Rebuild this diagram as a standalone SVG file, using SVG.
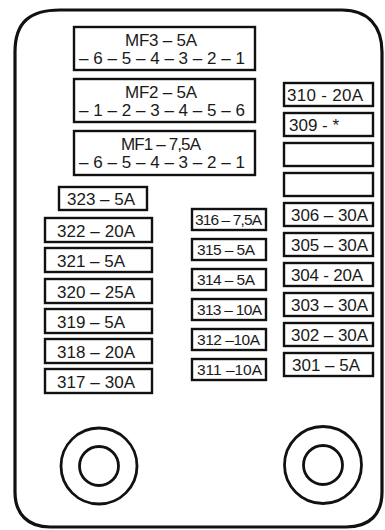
<svg xmlns="http://www.w3.org/2000/svg" width="385" height="530" viewBox="0 0 385 530">
<style>
.box{fill:#fff;stroke:#111;stroke-width:2.4}
.t{font-family:"Liberation Sans",Arial,sans-serif;fill:#1a1a1a;font-size:17px}
.m{font-family:"Liberation Sans",Arial,sans-serif;fill:#1a1a1a;font-size:15.5px}
.c{fill:none;stroke:#111;stroke-width:2.8}
</style>
<rect width="385" height="530" fill="#fff"/>
<g id="housing">
<path d="M15,52 C15,22 30,10 60,10 L342,10 C368,10 382,26 382,52 L382,492 C382,514 370,527 346,527 L50,527 C28,527 15,514 15,492 Z" fill="none" stroke="#111" stroke-width="3.2"/>
</g>
<g id="mf3"><rect class="box" x="74" y="27" width="181" height="43"/>
<text class="t" x="161" y="46" text-anchor="middle" textLength="72">MF3 – 5A</text>
<text class="t" x="162" y="64" text-anchor="middle" textLength="166">– 6 – 5 – 4 – 3 – 2 – 1</text></g>
<g id="mf2"><rect class="box" x="74" y="79" width="181" height="43"/>
<text class="t" x="161" y="98" text-anchor="middle" textLength="72">MF2 – 5A</text>
<text class="t" x="162" y="116" text-anchor="middle" textLength="166">– 1 – 2 – 3 – 4 – 5 – 6</text></g>
<g id="mf1"><rect class="box" x="74" y="131" width="181" height="44"/>
<text class="t" x="161" y="150" text-anchor="middle" textLength="80">MF1 – 7,5A</text>
<text class="t" x="162" y="168" text-anchor="middle" textLength="166">– 6 – 5 – 4 – 3 – 2 – 1</text></g>

<g id="f310"><rect class="box" x="284" y="83" width="89" height="23"/><text class="t" x="287" y="101" textLength="76">310 - 20A</text></g>
<g id="f309"><rect class="box" x="284" y="113" width="89" height="23"/><text class="t" x="289" y="131">309 - *</text></g>
<g id="f308"><rect class="box" x="284" y="143" width="89" height="23"/></g>
<g id="f307"><rect class="box" x="284" y="173" width="89" height="23"/></g>
<g id="f306"><rect class="box" x="284" y="203" width="89" height="23"/><text class="t" x="291" y="221" textLength="77">306 – 30A</text></g>
<g id="f305"><rect class="box" x="284" y="233" width="89" height="23"/><text class="t" x="291" y="251" textLength="77">305 – 30A</text></g>
<g id="f304"><rect class="box" x="284" y="263" width="89" height="23"/><text class="t" x="291" y="281" textLength="72">304 - 20A</text></g>
<g id="f303"><rect class="box" x="284" y="293" width="89" height="23"/><text class="t" x="291" y="311" textLength="77">303 – 30A</text></g>
<g id="f302"><rect class="box" x="284" y="323" width="89" height="23"/><text class="t" x="291" y="341" textLength="77">302 – 30A</text></g>
<g id="f301"><rect class="box" x="284" y="353" width="89" height="23"/><text class="t" x="292" y="371" textLength="68">301 – 5A</text></g>

<g id="f316"><rect class="box" x="192" y="209" width="74" height="21"/><text class="m" x="195" y="225" textLength="67">316 – 7,5A</text></g>
<g id="f315"><rect class="box" x="192" y="239" width="74" height="21"/><text class="m" x="197" y="255" textLength="58">315 – 5A</text></g>
<g id="f314"><rect class="box" x="192" y="269" width="74" height="21"/><text class="m" x="197" y="285" textLength="58">314 – 5A</text></g>
<g id="f313"><rect class="box" x="192" y="299" width="74" height="21"/><text class="m" x="197" y="315" textLength="65">313 – 10A</text></g>
<g id="f312"><rect class="box" x="192" y="329" width="74" height="21"/><text class="m" x="197" y="345" textLength="63">312 –10A</text></g>
<g id="f311"><rect class="box" x="192" y="359" width="74" height="21"/><text class="m" x="197" y="375" textLength="65">311 –10A</text></g>

<g id="f323"><rect class="box" x="59" y="187" width="88" height="23"/><text class="t" x="67" y="205" textLength="68">323 – 5A</text></g>
<g id="f322"><rect class="box" x="45" y="218" width="107" height="24"/><text class="t" x="57" y="237" textLength="78">322 – 20A</text></g>
<g id="f321"><rect class="box" x="45" y="248" width="107" height="24"/><text class="t" x="57" y="267" textLength="68">321 – 5A</text></g>
<g id="f320"><rect class="box" x="45" y="279" width="107" height="24"/><text class="t" x="57" y="298" textLength="78">320 – 25A</text></g>
<g id="f319"><rect class="box" x="45" y="309" width="107" height="24"/><text class="t" x="57" y="328" textLength="68">319 – 5A</text></g>
<g id="f318"><rect class="box" x="45" y="339" width="107" height="24"/><text class="t" x="57" y="358" textLength="78">318 – 20A</text></g>
<g id="f317"><rect class="box" x="45" y="369" width="107" height="24"/><text class="t" x="57" y="388" textLength="78">317 – 30A</text></g>

<g id="mount-left"><circle class="c" cx="99" cy="466" r="38"/><circle class="c" cx="99" cy="466" r="19.5"/></g>
<g id="mount-right"><circle class="c" cx="323" cy="465" r="38.5"/><circle class="c" cx="323" cy="465" r="19.5"/></g>
<g id="connectors"></g>
</svg>
